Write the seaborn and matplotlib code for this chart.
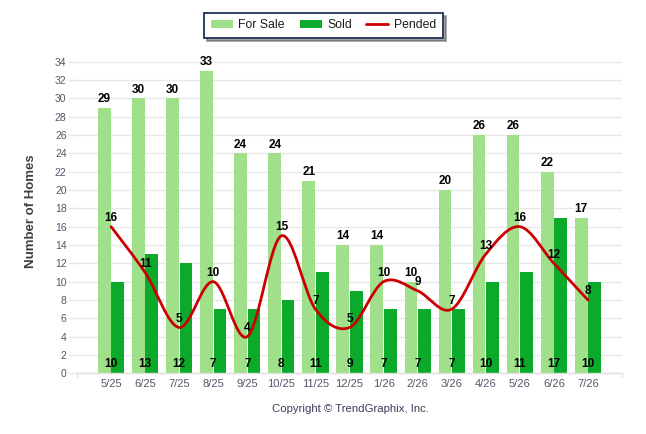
import numpy as np
import pandas as pd
import seaborn as sns
import matplotlib
matplotlib.use("Agg")
import matplotlib.pyplot as plt
from matplotlib.path import Path
from matplotlib.patches import PathPatch, Patch
from matplotlib.lines import Line2D

# ---------------------------------------------------
# Daten
# ---------------------------------------------------
months = ["5/25", "6/25", "7/25", "8/25", "9/25", "10/25", "11/25", "12/25",
          "1/26", "2/26", "3/26", "4/26", "5/26", "6/26", "7/26"]
for_sale = [29, 30, 30, 33, 24, 24, 21, 14, 14, 10, 20, 26, 26, 22, 17]
sold = [10, 13, 12, 7, 7, 8, 11, 9, 7, 7, 7, 10, 11, 17, 10]
pended = [16, 11, 5, 10, 4, 15, 7, 5, 10, 9, 7, 13, 16, 12, 8]
y_ticks = list(range(0, 35, 2))

C_SALE = "#A0E08A"
C_SOLD = "#0BAA2A"
C_PEND = "#CC0000"
C_TICK = "#55556A"

sns.set_theme(style="white")
plt.rcParams["font.family"] = ["Liberation Sans", "DejaVu Sans"]

df = pd.DataFrame({"month": months * 2,
                   "value": for_sale + sold,
                   "series": ["For Sale"] * len(months) + ["Sold"] * len(months)})

fig = plt.figure(figsize=(6.46, 4.34), dpi=100)
ax = fig.add_axes([77 / 646, 1 - 373.3 / 434, 545 / 646, 311.6 / 434])

sns.barplot(data=df, x="month", y="value", hue="series", order=months,
            palette={"For Sale": C_SALE, "Sold": C_SOLD}, saturation=1,
            width=0.79, gap=0.05, legend=False, ax=ax, zorder=2,
            linewidth=0, edgecolor="none")


# geglättete Linie (Kardinal-Spline wie im Original)
def spline_path(xs, ys, tension=0.5):
    pts = np.column_stack([xs, ys]).astype(float)
    n = len(pts)
    verts = [pts[0]]
    codes = [Path.MOVETO]
    for i in range(n - 1):
        p0 = pts[max(i - 1, 0)]
        p1 = pts[i]
        p2 = pts[i + 1]
        p3 = pts[min(i + 2, n - 1)]
        c1 = p1 + (p2 - p0) * tension / 3
        c2 = p2 - (p3 - p1) * tension / 3
        verts += [c1, c2, p2]
        codes += [Path.CURVE4] * 3
    return Path(verts, codes)


xpos = np.arange(len(months))
ax.add_patch(PathPatch(spline_path(xpos, pended), facecolor="none",
                       edgecolor=C_PEND, lw=2, zorder=4, capstyle="round"))

# Beschriftungen
bw = 0.79 / 2
for i in range(len(months)):
    ax.annotate(str(for_sale[i]), (i - bw / 2, for_sale[i]), xytext=(0, 6.3),
                textcoords="offset points", ha="center", va="center",
                fontsize=8.5, fontweight="bold", color="black", zorder=5)
    ax.annotate(str(sold[i]), (i, 0), xytext=(0, 6.5),
                textcoords="offset points", ha="center", va="center",
                fontsize=8.5, fontweight="bold", color="black", zorder=5)
    ax.annotate(str(pended[i]), (i, pended[i]), xytext=(0, 6.2),
                textcoords="offset points", ha="center", va="center",
                fontsize=8.5, fontweight="bold", color="black", zorder=5)

# Achsen
ax.set_xlim(-1, 15)
ax.set_ylim(0, 34)
ax.set_yticks(y_ticks)
ax.set_yticklabels([str(v) for v in y_ticks])
ax.set_xticks(xpos)
ax.set_xticklabels(months)
ax.set_xticks([-1, 15], minor=True)
ax.grid(axis="y", color="#E8E8E8", lw=1, zorder=0)
ax.set_axisbelow(True)
for s in ["top", "right", "left"]:
    ax.spines[s].set_visible(False)
ax.spines["bottom"].set_color("#E0E0E0")
ax.spines["bottom"].set_linewidth(1)
ax.tick_params(axis="y", length=6.5, color="#E8E8E8", width=1, pad=1,
               labelsize=7.5, labelcolor=C_TICK, left=True)
ax.tick_params(axis="x", which="major", length=0, pad=4, labelsize=8,
               labelcolor=C_TICK)
ax.tick_params(axis="x", which="minor", length=3, color="#E0E0E0",
               width=1, bottom=True)
ax.set_xlabel("")
ax.set_ylabel("Number of Homes", fontsize=9.5, fontweight="bold",
              color="#404040")
ax.yaxis.set_label_coords((37 - 77) / 545, 0.52)

fig.text(350 / 646, 1 - 409 / 434, "Copyright \u00a9 TrendGraphix, Inc.",
         ha="center", va="center", fontsize=8.2, color="#3C3C5A")

handles = [Patch(facecolor=C_SALE, edgecolor="none", label="For Sale"),
           Patch(facecolor=C_SOLD, edgecolor="none", label="Sold"),
           Line2D([0], [0], color=C_PEND, lw=2, label="Pended")]
leg = fig.legend(handles=handles, loc="center", ncol=3,
                 bbox_to_anchor=(323.5 / 646, 1 - 25.5 / 434),
                 frameon=True, fancybox=False, shadow=True, fontsize=8.8,
                 handlelength=1.8, handleheight=0.6, columnspacing=1.2,
                 handletextpad=0.45, borderpad=0.55, labelcolor="#1A1A1A")
leg.get_frame().set_edgecolor("#1F3354")
leg.get_frame().set_linewidth(1.3)

fig.savefig("out.png", dpi=100)
